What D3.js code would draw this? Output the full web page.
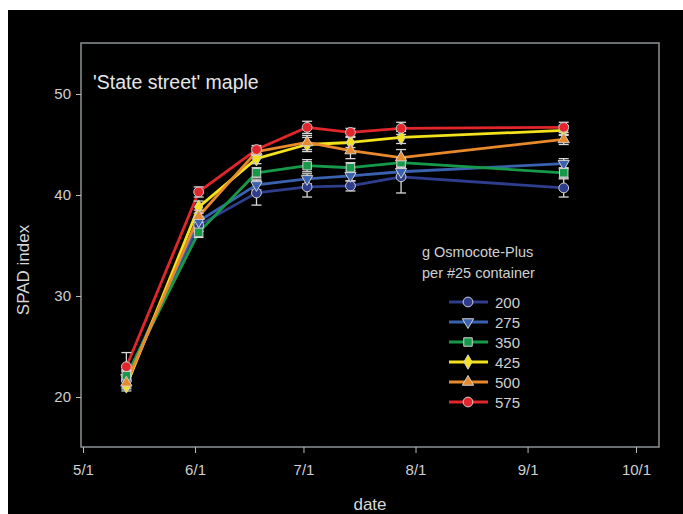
<!DOCTYPE html>
<html><head><meta charset="utf-8">
<script src="https://cdn.jsdelivr.net/npm/d3@7"></script>
<style>body{margin:0;background:#fff;}svg{display:block;font-family:"Liberation Sans",Arial,sans-serif;}</style>
</head><body>
<svg id="c" width="683" height="514"></svg>
<script>
// ---- data ----
const dates = ["2010-05-13","2010-06-02","2010-06-18","2010-07-02","2010-07-14","2010-07-28","2010-09-11"];
const seriesNames = ["200","275","350","425","500","575"];
const v200 = [21.7, 37.0, 40.2, 40.8, 40.9, 41.8, 40.7];
const v275 = [21.9, 37.4, 41.0, 41.6, 41.9, 42.3, 43.1];
const v350 = [22.1, 36.3, 42.2, 42.9, 42.7, 43.2, 42.2];
const v425 = [21.1, 38.8, 43.6, 45.0, 45.2, 45.7, 46.4];
const v500 = [21.4, 37.9, 44.3, 45.2, 44.4, 43.7, 45.5];
const v575 = [23.0, 40.3, 44.5, 46.7, 46.2, 46.6, 46.7];
const e200 = [0.8, 0.6, 1.2, 1.0, 0.5, 1.6, 0.9];
const e275 = [0.7, 0.5, 0.5, 0.5, 0.5, 0.6, 0.5];
const e350 = [0.6, 0.5, 0.5, 0.6, 0.5, 0.5, 0.5];
const e425 = [0.5, 0.6, 0.5, 0.7, 0.5, 0.6, 0.5];
const e500 = [0.6, 0.6, 0.4, 0.7, 0.8, 0.8, 0.5];
const e575 = [1.4, 0.5, 0.4, 0.6, 0.4, 0.6, 0.5];
const xTickLabels = ["5/1","6/1","7/1","8/1","9/1","10/1"];
const xTickDates = ["2010-05-01","2010-06-01","2010-07-01","2010-08-01","2010-09-01","2010-10-01"];
const yTicks = [20, 30, 40, 50];
const colors = ["#2e3d8c","#3b62b0","#169a4a","#f3e21c","#e8892b","#e2262b"];
const shapes = ["circle","triDown","square","diamond","triUp","circle"];

const values = [v200, v275, v350, v425, v500, v575];
const errors = [e200, e275, e350, e425, e500, e575];
const parse = d3.utcParse("%Y-%m-%d");

const svg = d3.select("#c");
svg.append("rect").attr("x",8).attr("y",10).attr("width",675).attr("height",504).attr("fill","#000");

const x = d3.scaleUtc().domain([parse("2010-05-01"), parse("2010-10-01")]).range([83, 636]);
const y = d3.scaleLinear().domain([20, 50]).range([397, 94]);

// frame
svg.append("rect").attr("x",81).attr("y",43).attr("width",578).attr("height",404)
  .attr("fill","none").attr("stroke","#8c9296").attr("stroke-width",1.5);

// y axis
const yAx = svg.append("g").attr("transform","translate(81,0)")
  .call(d3.axisLeft(y).tickValues(yTicks).tickSize(5).tickPadding(5).tickFormat(d3.format("d")));
yAx.select(".domain").remove();
yAx.selectAll("line").attr("stroke","#bbb");
yAx.selectAll("text").attr("fill","#d0d0d0").style("font-size","15px").style("font-family","Liberation Sans, Arial, sans-serif");

// x axis
const xAx = svg.append("g").attr("transform","translate(0,447)")
  .call(d3.axisBottom(x).tickValues(xTickDates.map(parse)).tickSize(6).tickPadding(11)
    .tickFormat((d,i)=>xTickLabels[i]));
xAx.select(".domain").remove();
xAx.selectAll("line").attr("stroke","#bbb");
xAx.selectAll("text").attr("fill","#d0d0d0").style("font-size","15px").style("font-family","Liberation Sans, Arial, sans-serif");

// titles
svg.append("text").attr("x",93).attr("y",89).attr("fill","#e6e6e6").style("font-size","19.5px").text("'State street' maple");
svg.append("text").attr("transform","translate(29,270) rotate(-90)").attr("text-anchor","middle")
  .attr("fill","#d8d8d8").style("font-size","17px").text("SPAD index");
svg.append("text").attr("x",370).attr("y",510).attr("text-anchor","middle")
  .attr("fill","#d8d8d8").style("font-size","17px").text("date");

function sym(shape){
  switch(shape){
    case "circle": return d3.symbol(d3.symbolCircle, 75)();
    case "square": return d3.symbol(d3.symbolSquare, 72)();
    case "diamond": return d3.symbol(d3.symbolDiamond, 60)();
    case "triUp": return d3.symbol(d3.symbolTriangle, 55)();
    case "triDown": return d3.symbol(d3.symbolTriangle, 55)();
  }
}
function rot(shape){ return shape==="triDown" ? " rotate(180)" : ""; }

const line = d3.line().x(d=>x(d.date)).y(d=>y(d.v));
const series = values.map((vals,si)=>vals.map((v,i)=>({date:parse(dates[i]), v, e:errors[si][i]})));

// lines
series.forEach((s,si)=>{
  svg.append("path").datum(s).attr("d",line).attr("fill","none")
    .attr("stroke",colors[si]).attr("stroke-width",2.8).attr("stroke-linejoin","round");
});
// error bars
series.forEach((s,si)=>{
  const g = svg.append("g").attr("stroke","#d8d8d8").attr("stroke-width",1.3);
  s.forEach(d=>{
    const cx = x(d.date);
    g.append("line").attr("x1",cx).attr("x2",cx).attr("y1",y(d.v-d.e)).attr("y2",y(d.v+d.e));
    g.append("line").attr("x1",cx-5).attr("x2",cx+5).attr("y1",y(d.v-d.e)).attr("y2",y(d.v-d.e));
    g.append("line").attr("x1",cx-5).attr("x2",cx+5).attr("y1",y(d.v+d.e)).attr("y2",y(d.v+d.e));
  });
});
// markers
series.forEach((s,si)=>{
  svg.append("g").selectAll("path").data(s).join("path")
    .attr("d",sym(shapes[si]))
    .attr("transform",d=>`translate(${x(d.date)},${y(d.v)})${rot(shapes[si])}`)
    .attr("fill",colors[si]).attr("stroke","#cfcfcf").attr("stroke-width",1);
});

// legend
svg.append("text").attr("x",422).attr("y",257).attr("fill","#d0d0d0").style("font-size","14.5px").text("g Osmocote-Plus");
svg.append("text").attr("x",422).attr("y",278).attr("fill","#d0d0d0").style("font-size","14.5px").text("per #25 container");
seriesNames.forEach((n,si)=>{
  const ly = 302 + si*20;
  const g = svg.append("g");
  g.append("line").attr("x1",449).attr("x2",488).attr("y1",ly).attr("y2",ly).attr("stroke",colors[si]).attr("stroke-width",2.8);
  g.append("path").attr("d",sym(shapes[si])).attr("transform",`translate(468,${ly})${rot(shapes[si])}`)
    .attr("fill",colors[si]).attr("stroke","#cfcfcf").attr("stroke-width",1);
  g.append("text").attr("x",495).attr("y",ly+5.5).attr("fill","#d0d0d0").style("font-size","15px").text(n);
});
</script>
</body></html>
